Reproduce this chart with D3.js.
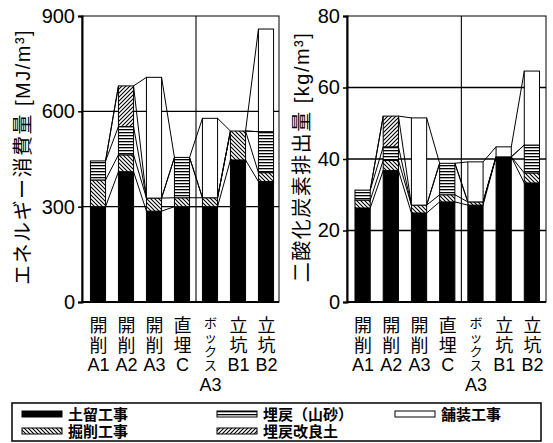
<!DOCTYPE html>
<html>
<head>
<meta charset="utf-8">
<script src="https://cdn.jsdelivr.net/npm/d3@7"></script>
<style>
  html, body { margin: 0; padding: 0; background: #fff; }
  svg { display: block; }
  text { fill: #000; }
</style>
</head>
<body>
<svg id="chart" width="553" height="443"></svg>
<script>
// Construction methods (x-axis labels, one character per row)
const categories = [
  ["開", "削", "A1"],
  ["開", "削", "A2"],
  ["開", "削", "A3"],
  ["直", "埋", "C"],
  ["ボ", "ッ", "ク", "ス", "A3"],
  ["立", "坑", "B1"],
  ["立", "坑", "B2"]
];

// Work items (stack order, bottom to top)
const seriesNames = ["土留工事", "掘削工事", "埋戻（山砂）", "埋戻改良土", "舗装工事"];

// Energy consumption [MJ/m3]
const energyDodome   = [300, 410, 286, 300, 300, 447, 379];
const energyKussaku  = [84, 53, 41, 28, 28, 91, 28];
const energyYamasuna = [60, 89, 0, 127, 0, 0, 129];
const energyKairyo   = [0, 128, 0, 0, 0, 0, 0];
const energyHoso     = [0, 0, 380, 0, 250, 0, 323];

// CO2 emissions [kg/m3]
const co2Dodome   = [26.3, 36.8, 24.9, 28.0, 27.1, 40.6, 33.3];
const co2Kussaku  = [2.2, 2.8, 2.2, 2.0, 0.9, 0, 2.8];
const co2Yamasuna = [2.8, 3.8, 0, 8.8, 0, 0, 7.8];
const co2Kairyo   = [0, 8.6, 0, 0, 0, 0, 0];
const co2Hoso     = [0, 0, 24.4, 0, 11.2, 2.8, 20.7];

const energyTicks = [0, 300, 600, 900];
const co2Ticks = [0, 20, 40, 60, 80];

const svg = d3.select("#chart");
const FONT = "'Liberation Sans', Arial, 'Noto Sans CJK JP', sans-serif";

// Fill patterns
const defs = svg.append("defs");
function hatch(id, dir) {
  const p = defs.append("pattern").attr("id", id)
    .attr("patternUnits", "userSpaceOnUse").attr("width", 4).attr("height", 4);
  p.append("rect").attr("width", 4).attr("height", 4).attr("fill", "#fff");
  const d = dir > 0
    ? "M-1,1 l2,-2 M0,4 l4,-4 M3,5 l2,-2"
    : "M-1,3 l2,2 M0,0 l4,4 M3,-1 l2,2";
  p.append("path").attr("d", d).attr("stroke", "#000").attr("stroke-width", 1.1);
}
hatch("pat-kussaku", -1);
hatch("pat-kairyo", 1);
{
  const p = defs.append("pattern").attr("id", "pat-yamasuna")
    .attr("patternUnits", "userSpaceOnUse").attr("width", 6).attr("height", 3);
  p.append("rect").attr("width", 6).attr("height", 3).attr("fill", "#fff");
  p.append("rect").attr("y", 0).attr("width", 6).attr("height", 1.3).attr("fill", "#000");
}
const fills = ["#000", "url(#pat-kussaku)", "url(#pat-yamasuna)", "url(#pat-kairyo)", "#fff"];

function drawPanel(cfg) {
  const g = svg.append("g");
  const series = cfg.series;
  const n = categories.length;
  const x = d3.scaleBand().domain(d3.range(n)).range(cfg.xRange)
    .paddingInner(0.46).paddingOuter(0.23);
  const y = d3.scaleLinear().domain([0, cfg.max]).range([302, 16]);
  const bw = x.bandwidth();

  const stack = d3.stack().keys(d3.range(series.length))
    .value((d, k) => series[k][d]);
  const layers = stack(d3.range(n));

  // frame
  g.append("rect")
    .attr("x", cfg.frame[0]).attr("y", y(cfg.max))
    .attr("width", cfg.frame[1] - cfg.frame[0]).attr("height", y(0) - y(cfg.max))
    .attr("fill", "none").attr("stroke", "#000").attr("stroke-width", 1);

  // horizontal gridlines
  g.selectAll(".hgrid").data(cfg.ticks.filter(t => t > 0 && t < cfg.max)).join("line")
    .attr("x1", cfg.frame[0]).attr("x2", cfg.frame[1])
    .attr("y1", d => y(d)).attr("y2", d => y(d))
    .attr("stroke", "#000").attr("stroke-width", 1.4);

  // vertical gridline between 4th and 5th category
  const vx = x(3) + x.step() - (x.step() - bw) / 2;
  g.append("line").attr("x1", vx).attr("x2", vx)
    .attr("y1", y(cfg.max)).attr("y2", y(0))
    .attr("stroke", "#000").attr("stroke-width", 1.1);

  // series lines joining segment tops of neighbouring bars
  layers.forEach(layer => {
    for (let i = 0; i < n - 1; i++) {
      g.append("line")
        .attr("x1", x(i) + bw).attr("y1", y(layer[i][1]))
        .attr("x2", x(i + 1)).attr("y2", y(layer[i + 1][1]))
        .attr("stroke", "#000").attr("stroke-width", 1);
    }
  });

  // stacked bars
  layers.forEach((layer, k) => {
    g.selectAll(null).data(layer.map((d, i) => ({ d, i })).filter(o => o.d[1] - o.d[0] > 0))
      .join("rect")
      .attr("x", o => x(o.i))
      .attr("y", o => y(o.d[1]))
      .attr("width", bw)
      .attr("height", o => y(o.d[0]) - y(o.d[1]))
      .attr("fill", fills[k])
      .attr("stroke", "#000").attr("stroke-width", 1);
  });

  // y axis
  const ax = g.append("g").attr("transform", `translate(${cfg.frame[0]},0)`)
    .call(d3.axisLeft(y).tickValues(cfg.ticks).tickSize(4).tickPadding(3));
  ax.select(".domain").attr("stroke-width", 2);
  ax.selectAll(".tick line").attr("stroke-width", 1.5);
  ax.selectAll(".tick text").attr("font-family", FONT).attr("font-size", 20)
    .attr("fill", "#000");

  // x axis baseline
  g.append("line").attr("x1", cfg.frame[0]).attr("x2", cfg.frame[1])
    .attr("y1", y(0)).attr("y2", y(0)).attr("stroke", "#000").attr("stroke-width", 2);

  // category labels
  categories.forEach((chars, i) => {
    const cx = x(i) + bw / 2 + 0.5;
    const long = chars.length > 3;
    const t = g.append("text").attr("font-family", FONT).attr("text-anchor", "middle");
    chars.forEach((c, j) => {
      const latin = /[A-Z0-9]/.test(c);
      const yy = long ? [328, 342, 356, 370, 391][j] : [332, 352, 371][j];
      t.append("tspan").attr("x", cx).attr("y", yy)
        .attr("font-size", latin ? 18 : (long ? 13 : 18))
        .text(c);
    });
  });

  // axis title
  g.append("text")
    .attr("transform", `translate(${cfg.titleX},157) rotate(-90)`)
    .attr("text-anchor", "middle").attr("dominant-baseline", "central")
    .attr("font-family", FONT).attr("font-size", 20).attr("letter-spacing", 1.5)
    .text(cfg.title);
}

drawPanel({
  series: [energyDodome, energyKussaku, energyYamasuna, energyKairyo, energyHoso],
  max: 900, ticks: energyTicks,
  xRange: [84, 280], frame: [82, 279],
  titleX: 23, title: "エネルギー消費量 [MJ/m³]"
});
drawPanel({
  series: [co2Dodome, co2Kussaku, co2Yamasuna, co2Kairyo, co2Hoso],
  max: 80, ticks: co2Ticks,
  xRange: [348.5, 546], frame: [347, 546],
  titleX: 302, title: "二酸化炭素排出量 [kg/m³]"
});

// legend
const lg = svg.append("g");
lg.append("rect").attr("x", 12).attr("y", 403).attr("width", 529).attr("height", 38)
  .attr("fill", "#fff").attr("stroke", "#000").attr("stroke-width", 1.5);
const legendPos = [
  { x: 22, y: 411 }, { x: 22, y: 428 },
  { x: 217, y: 411 }, { x: 217, y: 428 },
  { x: 395, y: 411 }
];
seriesNames.forEach((name, k) => {
  const p = legendPos[k];
  lg.append("rect").attr("x", p.x).attr("y", p.y).attr("width", 40).attr("height", 6)
    .attr("fill", fills[k]).attr("stroke", "#000").attr("stroke-width", 1);
  lg.append("text").attr("x", p.x + 46).attr("y", p.y + 9)
    .attr("font-family", FONT).attr("font-size", 15).attr("font-weight", "bold")
    .text(name);
});
</script>
</body>
</html>
